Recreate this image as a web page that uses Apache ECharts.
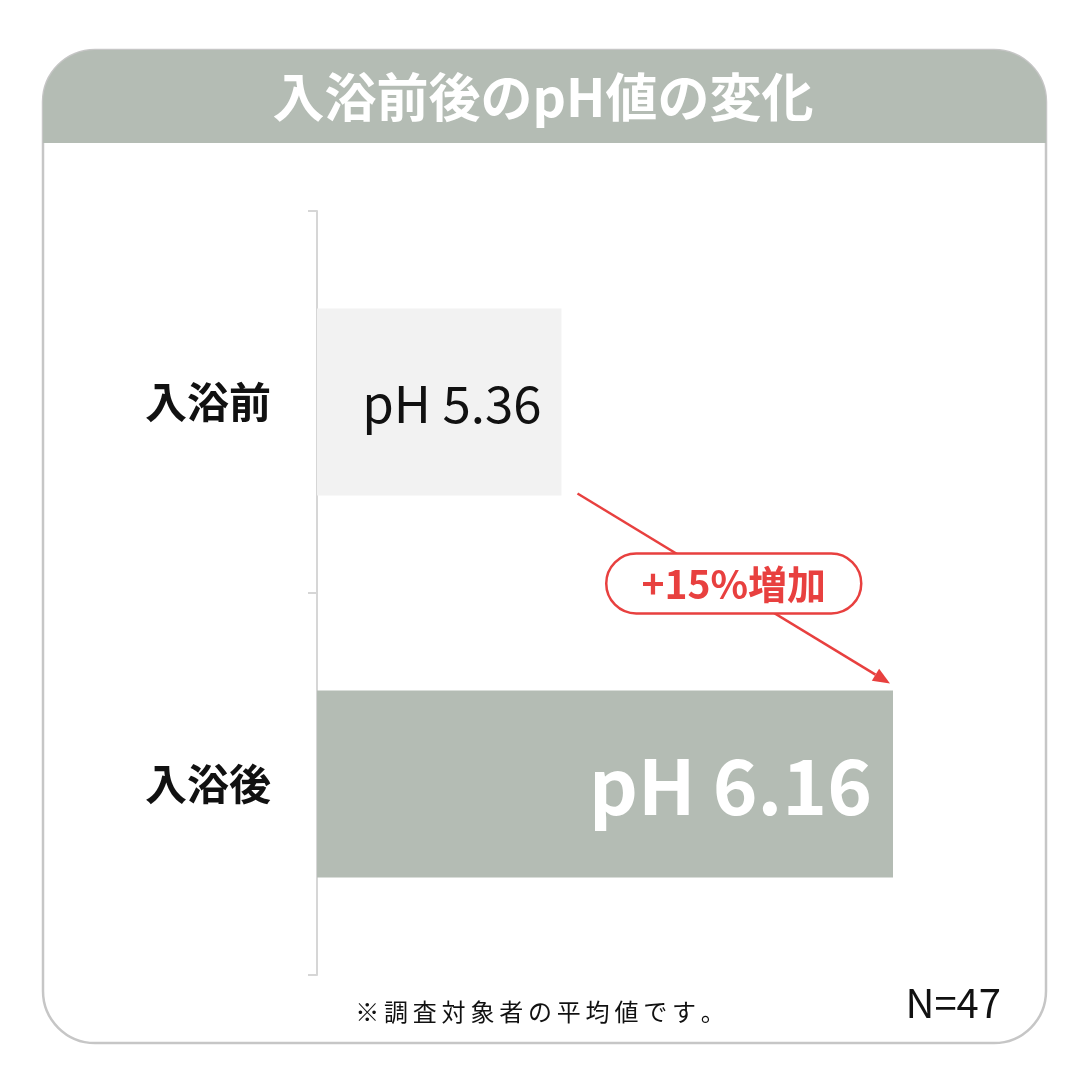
<!DOCTYPE html>
<html>
<head>
<meta charset="utf-8">
<script src="https://cdn.jsdelivr.net/npm/echarts@6/dist/echarts.min.js"></script>
<style>
html,body{margin:0;padding:0;background:#fff;}
#c{width:1080px;height:1080px;}
</style>
</head>
<body>
<div id="c"></div>
<script>
const categories = ['入浴前', '入浴後'];
const phValues = [5.36, 6.16];
const titleText = '入浴前後のpH値の変化';
const changeText = '+15%増加';
const noteText = '※調査対象者の平均値です。';
const sampleText = 'N=47';

const JP = '"Noto Sans CJK JP", "Noto Sans", sans-serif';
const SAGE = '#b4bcb4';
const RED = '#e8403f';
const BAR_W = 187;

const chart = echarts.init(document.getElementById('c'), null, {renderer: 'canvas'});

const barStyles = [
  {color: '#f2f2f2', label: {color: '#111', fontSize: 51, fontWeight: 'normal', offset: [-15, 2]}},
  {color: SAGE, label: {color: '#fff', fontSize: 76, fontWeight: 'bold', offset: [-16, 2]}}
];

const option = {
  animation: false,
  grid: {left: 317, right: 187, top: 211, bottom: 105, containLabel: false},
  xAxis: {type: 'value', min: 4.77, max: 6.16, show: false},
  yAxis: {
    type: 'category',
    data: categories,
    inverse: true,
    axisLine: {show: true, lineStyle: {color: '#d6d6d6', width: 2}},
    axisTick: {show: true, length: 9, lineStyle: {color: '#d6d6d6', width: 2}},
    axisLabel: {color: '#111', fontSize: 42, fontWeight: 'bold', fontFamily: JP, margin: 46}
  },
  series: [{
    type: 'bar',
    barWidth: BAR_W,
    silent: true,
    data: phValues.map((v, i) => ({
      value: v,
      itemStyle: {color: barStyles[i].color},
      label: Object.assign({
        show: true,
        position: 'insideRight',
        fontFamily: JP,
        formatter: p => 'pH ' + p.value.toFixed(2)
      }, barStyles[i].label)
    }))
  }]
};
chart.setOption(option);

// Annotation arrow anchored at the bar ends via the axis scales
const p1 = chart.convertToPixel({gridIndex: 0}, [phValues[0], 0]);
const p2 = chart.convertToPixel({gridIndex: 0}, [phValues[1], 1]);
const half = BAR_W / 2;
const s = [p1[0] + 16, p1[1] + half - 2];
const e = [p2[0] - 3, p2[1] - half - 7];
const dx = e[0] - s[0], dy = e[1] - s[1];
const len = Math.sqrt(dx * dx + dy * dy);
const ux = dx / len, uy = dy / len;
const headL = 17, headW = 7;
const base = [e[0] - ux * headL, e[1] - uy * headL];
const mid = [(s[0] + e[0]) / 2, (s[1] + e[1]) / 2 - 5];
const pillW = 255, pillH = 60;
const spaced = noteText.split('').join('\u2009');

chart.setOption({
  graphic: [
    // outer frame
    {type: 'rect', z: 0, shape: {x: 43, y: 50, width: 1003, height: 993, r: 52},
     style: {fill: '#fff', stroke: '#c6c6c6', lineWidth: 2.5}},
    // header band
    {type: 'rect', z: 1, shape: {x: 43, y: 50, width: 1003, height: 93, r: [52, 52, 0, 0]},
     style: {fill: SAGE}},
    {type: 'text', z: 2, x: 543, y: 97,
     style: {text: titleText, fill: '#fff', font: 'bold 52px ' + JP, align: 'center', verticalAlign: 'middle'}},
    // arrow
    {type: 'line', z: 10, shape: {x1: s[0], y1: s[1], x2: base[0], y2: base[1]},
     style: {stroke: RED, lineWidth: 2.5}},
    {type: 'polygon', z: 10, shape: {points: [
        e,
        [base[0] - uy * headW, base[1] + ux * headW],
        [base[0] + uy * headW, base[1] - ux * headW]
      ]}, style: {fill: RED}},
    // pill label
    {type: 'rect', z: 11, shape: {x: mid[0] - pillW / 2, y: mid[1] - pillH / 2, width: pillW, height: pillH, r: pillH / 2},
     style: {fill: '#fff', stroke: RED, lineWidth: 2.5}},
    {type: 'text', z: 12, x: mid[0], y: mid[1] + 1,
     style: {text: changeText, fill: RED, font: 'bold 39px ' + JP, align: 'center', verticalAlign: 'middle'}},
    // footer
    {type: 'text', z: 2, x: 540, y: 1012,
     style: {text: spaced, fill: '#111', font: '24px ' + JP, align: 'center', verticalAlign: 'middle'}},
    {type: 'text', z: 2, x: 1001, y: 1003,
     style: {text: sampleText, fill: '#111', font: '40px ' + JP, align: 'right', verticalAlign: 'middle'}}
  ]
});
</script>
</body>
</html>
